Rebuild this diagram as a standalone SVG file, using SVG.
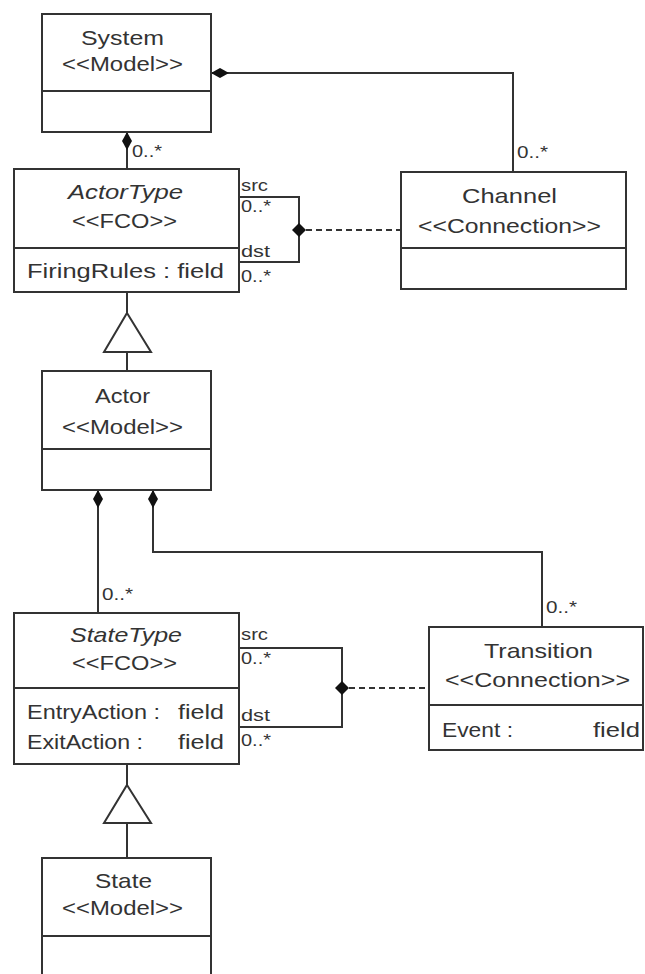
<svg xmlns="http://www.w3.org/2000/svg" width="645" height="974" viewBox="0 0 645 974">
<style>
.box{fill:#fff;stroke:#333;stroke-width:2}
.sep{stroke:#333;stroke-width:2}
.ln{fill:none;stroke:#333;stroke-width:2}
.dash{fill:none;stroke:#333;stroke-width:2;stroke-dasharray:6,4}
.dia{fill:#111;stroke:none}
.tri{fill:#fff;stroke:#333;stroke-width:2}
text{font-family:"Liberation Sans",Arial,sans-serif;fill:#333}
.t{font-size:21px}
.i{font-size:21px;font-style:italic}
.s{font-size:16px}
</style>
<rect width="645" height="974" fill="#fff"/>
<g id="connectors">
  <!-- System -> ActorType composition -->
  <line class="ln" x1="127" y1="132" x2="127" y2="169"/>
  <polygon class="dia" points="127,132 132,141 127,150 122,141"/>
  <text class="s" x="132" y="157" textLength="30" lengthAdjust="spacingAndGlyphs">0..*</text>
  <!-- System -> Channel composition -->
  <polyline class="ln" points="211,73 513,73 513,172"/>
  <polygon class="dia" points="211,73 220,68 229,73 220,78"/>
  <text class="s" x="517" y="158" textLength="31" lengthAdjust="spacingAndGlyphs">0..*</text>
  <!-- ActorType src/dst loop -->
  <polyline class="ln" points="239,197 299,197 299,262 239,262"/>
  <polygon class="dia" points="299,223 306,230 299,237 292,230"/>
  <line class="dash" x1="306" y1="230" x2="401" y2="230"/>
  <text class="s" x="241" y="191" textLength="27" lengthAdjust="spacingAndGlyphs">src</text>
  <text class="s" x="241" y="212" textLength="30" lengthAdjust="spacingAndGlyphs">0..*</text>
  <text class="s" x="241" y="257" textLength="29" lengthAdjust="spacingAndGlyphs">dst</text>
  <text class="s" x="241" y="282" textLength="30" lengthAdjust="spacingAndGlyphs">0..*</text>
  <!-- Generalization Actor -> ActorType -->
  <line class="ln" x1="127" y1="292" x2="127" y2="313"/>
  <polygon class="tri" points="127,313 151,352 104,352"/>
  <line class="ln" x1="127" y1="352" x2="127" y2="371"/>
  <!-- Actor -> StateType composition -->
  <line class="ln" x1="98" y1="490" x2="98" y2="613"/>
  <polygon class="dia" points="98,490 103,499 98,508 93,499"/>
  <text class="s" x="102" y="600" textLength="31" lengthAdjust="spacingAndGlyphs">0..*</text>
  <!-- Actor -> Transition composition -->
  <polyline class="ln" points="153,490 153,552 542,552 542,627"/>
  <polygon class="dia" points="153,490 158,499 153,508 148,499"/>
  <text class="s" x="546" y="613" textLength="31" lengthAdjust="spacingAndGlyphs">0..*</text>
  <!-- StateType src/dst loop -->
  <polyline class="ln" points="239,648 342,648 342,727 239,727"/>
  <polygon class="dia" points="342,681 349,688 342,695 335,688"/>
  <line class="dash" x1="349" y1="688" x2="429" y2="688"/>
  <text class="s" x="241" y="640" textLength="27" lengthAdjust="spacingAndGlyphs">src</text>
  <text class="s" x="241" y="664" textLength="30" lengthAdjust="spacingAndGlyphs">0..*</text>
  <text class="s" x="241" y="721" textLength="29" lengthAdjust="spacingAndGlyphs">dst</text>
  <text class="s" x="241" y="746" textLength="30" lengthAdjust="spacingAndGlyphs">0..*</text>
  <!-- Generalization State -> StateType -->
  <line class="ln" x1="127" y1="764" x2="127" y2="785"/>
  <polygon class="tri" points="127,785 151,823 104,823"/>
  <line class="ln" x1="127" y1="823" x2="127" y2="858"/>
</g>
<g id="System">
  <rect class="box" x="42" y="14" width="169" height="118"/>
  <line class="sep" x1="42" y1="91" x2="211" y2="91"/>
  <text class="t" x="81" y="45" textLength="83" lengthAdjust="spacingAndGlyphs">System</text>
  <text class="t" x="62" y="71" textLength="121" lengthAdjust="spacingAndGlyphs">&lt;&lt;Model&gt;&gt;</text>
</g>
<g id="ActorType">
  <rect class="box" x="14" y="169" width="225" height="123"/>
  <line class="sep" x1="14" y1="248" x2="239" y2="248"/>
  <text class="i" x="68" y="199" textLength="115" lengthAdjust="spacingAndGlyphs">ActorType</text>
  <text class="t" x="72" y="228" textLength="105" lengthAdjust="spacingAndGlyphs">&lt;&lt;FCO&gt;&gt;</text>
  <text class="t" x="27" y="278" textLength="197" lengthAdjust="spacingAndGlyphs">FiringRules : field</text>
</g>
<g id="Channel">
  <rect class="box" x="401" y="172" width="225" height="117"/>
  <line class="sep" x1="401" y1="248" x2="626" y2="248"/>
  <text class="t" x="462" y="203" textLength="95" lengthAdjust="spacingAndGlyphs">Channel</text>
  <text class="t" x="418" y="233" textLength="183" lengthAdjust="spacingAndGlyphs">&lt;&lt;Connection&gt;&gt;</text>
</g>
<g id="Actor">
  <rect class="box" x="42" y="371" width="169" height="119"/>
  <line class="sep" x1="42" y1="449" x2="211" y2="449"/>
  <text class="t" x="95" y="403" textLength="55" lengthAdjust="spacingAndGlyphs">Actor</text>
  <text class="t" x="62" y="434" textLength="121" lengthAdjust="spacingAndGlyphs">&lt;&lt;Model&gt;&gt;</text>
</g>
<g id="StateType">
  <rect class="box" x="14" y="613" width="225" height="151"/>
  <line class="sep" x1="14" y1="688" x2="239" y2="688"/>
  <text class="i" x="70" y="642" textLength="112" lengthAdjust="spacingAndGlyphs">StateType</text>
  <text class="t" x="72" y="670" textLength="105" lengthAdjust="spacingAndGlyphs">&lt;&lt;FCO&gt;&gt;</text>
  <text class="t" x="27" y="719" textLength="133" lengthAdjust="spacingAndGlyphs">EntryAction :</text>
  <text class="t" x="178" y="719" textLength="46" lengthAdjust="spacingAndGlyphs">field</text>
  <text class="t" x="27" y="749" textLength="116" lengthAdjust="spacingAndGlyphs">ExitAction :</text>
  <text class="t" x="178" y="749" textLength="46" lengthAdjust="spacingAndGlyphs">field</text>
</g>
<g id="Transition">
  <rect class="box" x="429" y="627" width="214" height="123"/>
  <line class="sep" x1="429" y1="705" x2="643" y2="705"/>
  <text class="t" x="484" y="658" textLength="109" lengthAdjust="spacingAndGlyphs">Transition</text>
  <text class="t" x="445" y="687" textLength="185" lengthAdjust="spacingAndGlyphs">&lt;&lt;Connection&gt;&gt;</text>
  <text class="t" x="442" y="737" textLength="71" lengthAdjust="spacingAndGlyphs">Event :</text>
  <text class="t" x="593" y="737" textLength="47" lengthAdjust="spacingAndGlyphs">field</text>
</g>
<g id="State">
  <rect class="box" x="42" y="858" width="169" height="130"/>
  <line class="sep" x1="42" y1="936" x2="211" y2="936"/>
  <text class="t" x="95" y="888" textLength="57" lengthAdjust="spacingAndGlyphs">State</text>
  <text class="t" x="62" y="915" textLength="121" lengthAdjust="spacingAndGlyphs">&lt;&lt;Model&gt;&gt;</text>
</g>
</svg>
